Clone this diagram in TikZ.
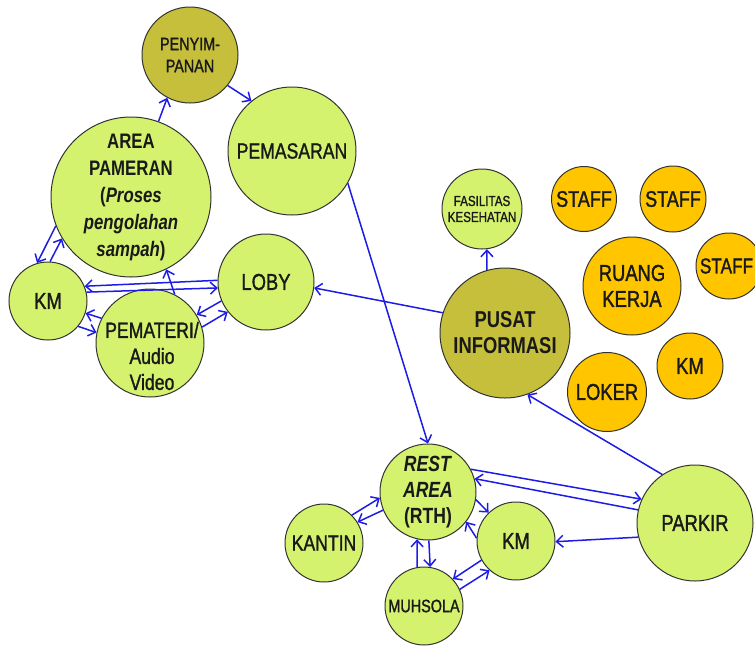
\documentclass[tikz,border=0pt]{standalone}
\usepackage{fontspec}
\setmainfont{Liberation Sans}[FakeStretch=0.8, UprightFeatures={FakeBold=1.3}]
\usetikzlibrary{arrows.meta}
\definecolor{lgreen}{RGB}{212,242,110}
\definecolor{olive}{RGB}{198,191,59}
\definecolor{orng}{RGB}{255,198,0}
\definecolor{arrblue}{RGB}{28,28,230}
\newcommand{\fs}[2]{\fontsize{#1}{#2}\selectfont}
\tikzset{
  bub/.style={circle, draw=black!80, line width=1pt, inner sep=0pt, align=center, text=black!90},
  gb/.style={bub, fill=lgreen},
  ob/.style={bub, fill=olive},
  yb/.style={bub, fill=orng},
  txt/.style={align=center, inner sep=0pt, text=black!90},
  con/.style={draw=arrblue, line width=1.5pt, -{Straight Barb[length=6.5pt,width=12pt,line width=1.5pt]}},
}
\begin{document}
\begin{tikzpicture}[x=1pt,y=-1pt]
\useasboundingbox (0,0) rectangle (755,646);
% nodes
\node[ob, minimum size=96pt, font=\fs{18}{22}] (penyim) at (190,55) {PENYIM-\\PANAN};
\node[gb, minimum size=128pt, font=\fs{22}{26}] (pemas) at (292,151) {PEMASARAN};
\node[gb, minimum size=160pt, font=\fs{21}{27}\bfseries] (pameran) at (131,197) {AREA\\PAMERAN\\(\textit{Proses}\\\textit{pengolahan}\\\textit{sampah})};
\node[gb, minimum size=78pt, font=\fs{23}{26}] (kmL) at (48,301) {KM};
\node[gb, minimum size=96pt, font=\fs{23}{26}] (loby) at (266,282) {LOBY};
\node[gb, minimum size=108pt] (pemateri) at (150,343) {};
\node[txt, font=\fs{22}{26}] (pemtxt) at (152,356) {PEMATERI/\\Audio\\Video};
\node[gb, minimum size=80pt, font=\fs{14.5}{16}] (fasil) at (482,209) {FASILITAS\\KESEHATAN};
\node[ob, minimum size=130pt, font=\fs{23}{26}\bfseries] (pusat) at (505,333) {PUSAT\\INFORMASI};
\node[yb, minimum size=65pt, font=\fs{22.5}{26}] (staffA) at (584,199) {STAFF};
\node[yb, minimum size=66pt, font=\fs{22.5}{26}] (staffB) at (673,199) {STAFF};
\node[yb, minimum size=66pt] (staffC) at (729,266) {};
\node[txt, font=\fs{21.5}{26}] (staffCt) at (726.5,266) {STAFF};
\node[yb, minimum size=98pt, font=\fs{23}{26}] (ruang) at (632,286) {RUANG\\KERJA};
\node[yb, minimum size=66pt, font=\fs{23}{26}] (kmR) at (690,366) {KM};
\node[yb, minimum size=79pt, font=\fs{23}{26}] (loker) at (607,392) {LOKER};
\node[gb, minimum size=96pt, font=\fs{22}{26}\bfseries] (rest) at (428,492) {\textit{REST}\\\textit{AREA}\\(RTH)};
\node[gb, minimum size=78pt, font=\fs{22}{26}] (kantin) at (324,543) {KANTIN};
\node[gb, minimum size=78pt, font=\fs{23}{26}] (kmB) at (516,541) {KM};
\node[gb, minimum size=78pt, font=\fs{18}{20}] (muh) at (424,606) {MUHSOLA};
\node[gb, minimum size=116pt, font=\fs{23}{26}] (parkir) at (695,523) {PARKIR};
% connectors
\draw[con] (pameran.70) -- (penyim.242);
\draw[con] (penyim.-39) -- (pemas.129);
\draw[con] (pemas.-30) -- (rest.90);
\draw[con] (pusat.162) -- (loby.-7);
\draw[con] (pusat.106) -- (fasil.-83);
\draw[con] (parkir.124) -- (pusat.-70);
\draw[con] (rest.28) -- (parkir.156);
\draw[con] (parkir.167) -- (rest.16);
\draw[con] (parkir.194) -- (kmB.-1);
\draw[con] (kantin.45) -- (rest.187);
\draw[con] (rest.202) -- (kantin.32);
\draw[con] (rest.-9) -- (kmB.134);
\draw[con] (kmB.176) -- (rest.-38);
\draw[con] (muh.100) -- (rest.-103);
\draw[con] (rest.-89) -- (muh.81);
\draw[con] (kmB.209) -- (muh.43);
\draw[con] (muh.25) -- (kmB.228);
\draw[con] (pameran.201) -- (kmL.106);
\draw[con] (kmL.87) -- (pameran.211);
\draw[con] (loby.178) -- (kmL.22);
\draw[con] (kmL.13) -- (loby.187);
\draw[con] (pemateri.153) -- (kmL.-18);
\draw[con] (kmL.-40) -- (pemateri.169);
\draw[con] (pemateri.63) -- (pameran.-64);
\draw[con] (loby.203) -- (pemateri.31);
\draw[con] (pemateri.17) -- (loby.218);
\end{tikzpicture}
\end{document}
